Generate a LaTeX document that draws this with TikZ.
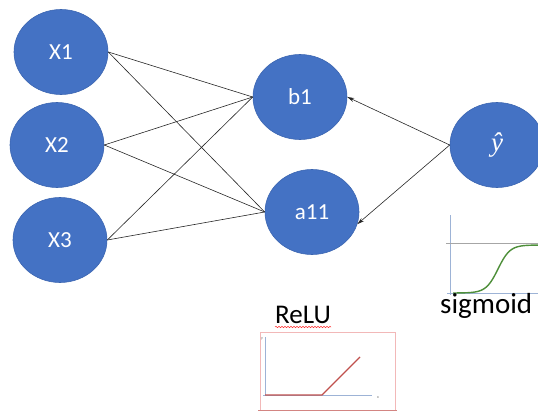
\documentclass[tikz,border=0pt]{standalone}
\usepackage{fontspec}
\setmainfont{Carlito}
\newfontfamily\hatfont{Liberation Serif}
\usetikzlibrary{shapes.geometric,arrows.meta,decorations.pathmorphing}
\definecolor{nodeblue}{HTML}{4472C4}
\definecolor{nodeedge}{HTML}{3A64B0}
\definecolor{axisblue}{HTML}{9DB3D6}
\definecolor{sigmagreen}{HTML}{4E8F3A}
\definecolor{relured}{HTML}{C0504D}
\definecolor{boxpink}{HTML}{F2B8B8}
\begin{document}
\begin{tikzpicture}[x=1pt,y=-1pt,
  neuron/.style={ellipse,fill=nodeblue,draw=nodeedge,line width=0.6pt,minimum width=94pt,minimum height=85pt,inner sep=0pt,text=white,font=\fontsize{23}{25}\selectfont},
  wire/.style={draw=black!85,line width=0.6pt},
  back/.style={draw=black!85,line width=0.6pt,-{Stealth[length=7pt,width=4pt]}},
  lbl/.style={text=black,inner sep=0pt}]
\useasboundingbox (0,0) rectangle (538,412);
% neurons
\node[neuron] (x1) at (61,52) {X1};
\node[neuron] (x2) at (57,145) {X2};
\node[neuron] (x3) at (60,240) {X3};
\node[neuron] (b1) at (300,97) {b1};
\node[neuron] (a11) at (312,212) {a11};
\node[neuron,font=\hatfont\itshape\fontsize{27}{29}\selectfont] (yh) at (497,145) {ŷ};
% input connections
\foreach \s in {x1,x2,x3}{
  \draw[wire] (\s.east) -- (b1.west);
  \draw[wire] (\s.east) -- (a11.west);
}
% output connections
\draw[back] (yh.west) -- (b1.east);
\draw[back] (yh.west) -- (a11.-15);
% sigmoid plot
\draw[axisblue,line width=0.6pt] (450,215) -- (450,295);
\draw[axisblue,line width=0.6pt] (447,293) -- (538,293);
\draw[black!35,line width=0.5pt] (446,243) -- (538,243);
\draw[sigmagreen,line width=1.4pt] plot[domain=453:538,samples=70,smooth] (\x,{293-48/(1+exp(-(\x-498)/6))});
\node[lbl,font=\fontsize{29}{31}\selectfont,anchor=west] (sig) at (440,306) {sigmoid};
% ReLU plot
\node[lbl,font=\fontsize{27}{29}\selectfont] (relu) at (303,315) {ReLU};
\draw[red!80,line width=0.5pt,decorate,decoration={snake,amplitude=0.7pt,segment length=3pt}] (275,327) -- (331,327);
\draw[boxpink,line width=0.6pt] (260,332) rectangle (395,410);
\draw[relured!70,line width=1pt] (258,410) -- (397,410);
\draw[axisblue,line width=0.6pt] (265,337) -- (265,396);
\draw[axisblue,line width=0.6pt] (263,395) -- (372,395);
\draw[relured,line width=1.2pt] (265,395) -- (322,395) -- (360,357);
\node[font=\fontsize{4}{4}\selectfont,text=black!60,inner sep=0pt] (ry) at (262,339) {y};
\node[font=\fontsize{4}{4}\selectfont,text=black!60,inner sep=0pt] (rx) at (378,398) {x};
\end{tikzpicture}
\end{document}
